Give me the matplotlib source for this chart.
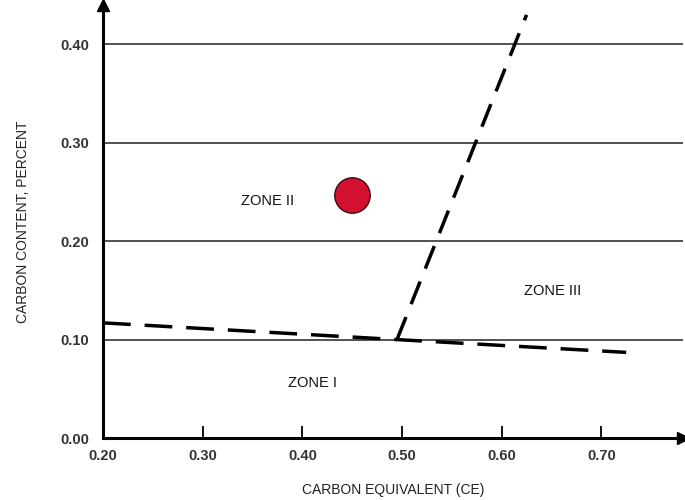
import matplotlib
matplotlib.use('Agg')
import matplotlib.pyplot as plt

# axis ticks
x_ticks = [0.20, 0.30, 0.40, 0.50, 0.60, 0.70]
y_ticks = [0.00, 0.10, 0.20, 0.30, 0.40]
grid_levels = [0.10, 0.20, 0.30, 0.40]

# dashed boundary lines (CE, C%)
low_line_x = [0.20, 0.495, 0.725]
low_line_y = [0.117, 0.100, 0.087]
steep_line_x = [0.495, 0.625]
steep_line_y = [0.100, 0.430]

# marked point
point_x = [0.45]
point_y = [0.247]

# zone labels
zone_names = ["ZONE I", "ZONE II", "ZONE III"]
zone_x = [0.41, 0.365, 0.651]
zone_y = [0.056, 0.241, 0.149]

plt.rcParams['font.family'] = ['Liberation Sans', 'DejaVu Sans']

fig = plt.figure(figsize=(6.85, 5), dpi=100)
ax = fig.add_axes([103 / 685, 62 / 500, 580 / 685, 433 / 500])
ax.set_xlim(0.20, 0.782)
ax.set_ylim(0.0, 0.44)

for lv in grid_levels:
    ax.axhline(lv, color='#333333', lw=1.2, zorder=1)

ax.plot(low_line_x, low_line_y, color='black', lw=2.5,
        dashes=(8, 4), zorder=3)
ax.plot(steep_line_x, steep_line_y, color='black', lw=2.5,
        dashes=(7, 4), zorder=3)

ax.scatter(point_x, point_y, s=650, color='#D2102F', edgecolor='#3a0a10',
           lw=1.0, zorder=4)

for name, zx, zy in zip(zone_names, zone_x, zone_y):
    ax.text(zx, zy, name, fontsize=10.5, ha='center', va='center',
            color='#111111', zorder=5)

# axes with arrows
for s in ['top', 'right']:
    ax.spines[s].set_visible(False)
for s in ['left', 'bottom']:
    ax.spines[s].set_linewidth(2.2)
ax.plot(1, 0, '>k', ms=9, transform=ax.get_yaxis_transform(), clip_on=False)
ax.plot(0.20, 1, '^k', ms=9, transform=ax.get_xaxis_transform(), clip_on=False)

ax.set_xticks(x_ticks)
ax.set_xticklabels([f"{v:.2f}" for v in x_ticks], fontweight='bold')
ax.set_yticks(y_ticks)
ax.set_yticklabels([f"{v:.2f}" for v in y_ticks], fontweight='bold')
ax.tick_params(axis='x', direction='in', length=9, width=1.3, pad=8,
               labelsize=10.5, labelcolor='#333333')
ax.tick_params(axis='y', length=0, pad=10, labelsize=10.5,
               labelcolor='#333333')

ax.set_xlabel("CARBON EQUIVALENT (CE)", fontsize=10, color='#222222',
              labelpad=14)
ax.set_ylabel("CARBON CONTENT, PERCENT", fontsize=10, color='#222222',
              labelpad=22)

fig.savefig("out.png", dpi=100)
